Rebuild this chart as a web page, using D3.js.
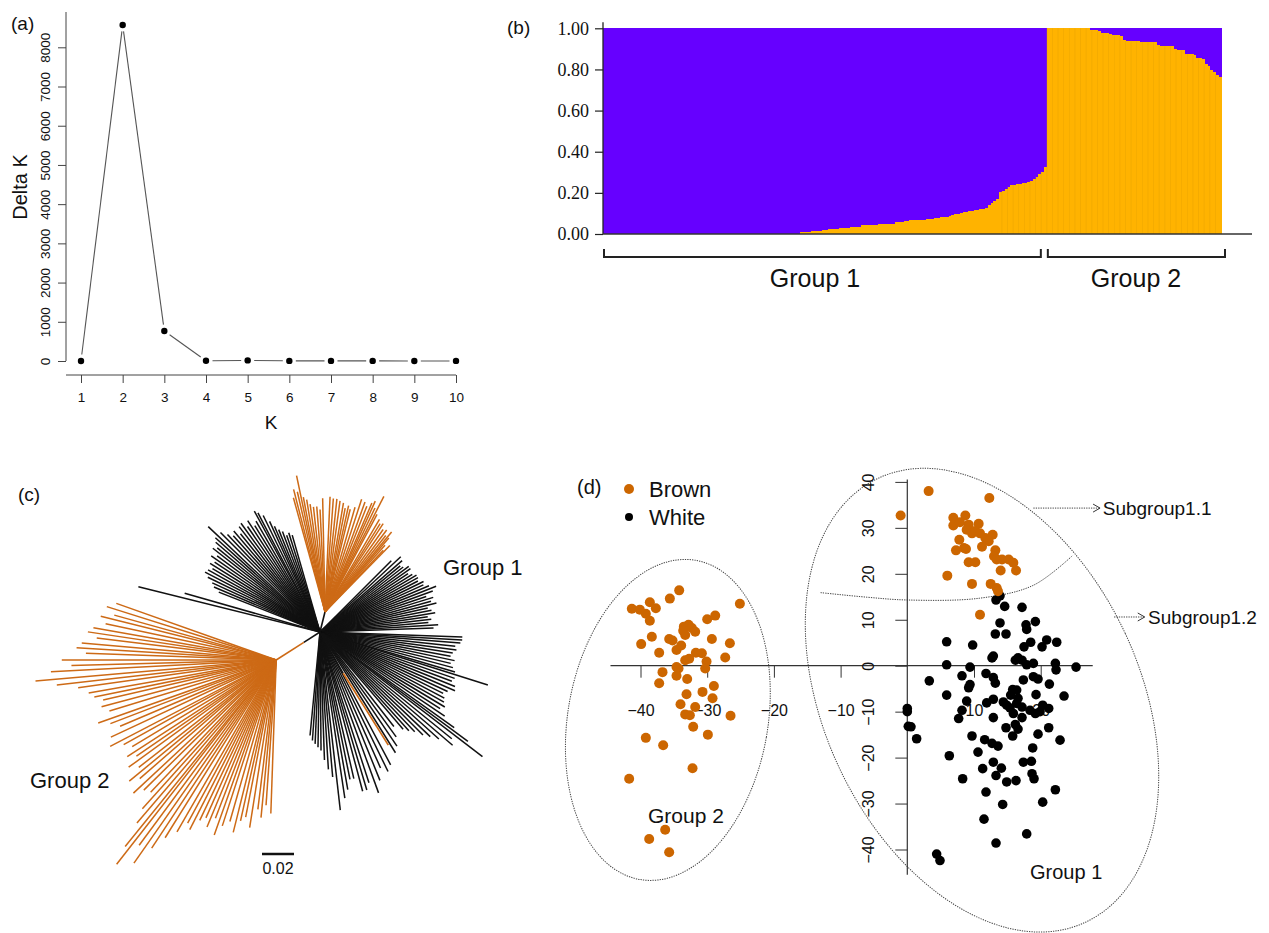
<!DOCTYPE html>
<html><head><meta charset="utf-8">
<script src="https://cdn.jsdelivr.net/npm/d3@7"></script>
<style>
body{margin:0;background:#fff}
svg{display:block}
text{font-family:"Liberation Sans",Arial,Helvetica,sans-serif;fill:#111}
</style>
</head><body>
<svg id="c" width="1269" height="933"></svg>
<script>
// ---------------- DATA ----------------
// (a) Delta K
const kValues = [1,2,3,4,5,6,7,8,9,10];
const deltaK  = [0,8570,765,5,15,3,2,3,1,2];
const deltaKTicks = [0,1000,2000,3000,4000,5000,6000,7000,8000];

// (b) STRUCTURE membership (orange proportion per individual, sorted)
const group1Orange = [
0,0,0,0,0,0,0,0,0,0,0,0,0,0,0,0,0,0,0,0,0,0,0,0,0,0,0,0,0,0,0,0,0,0,0,
0,0,0,0,0,0,0,0,0,0,0,0,0,0,0,0,0,0,0,0,0,0,0,0,0,0,0,0,0,0,0,0,0,0,0,
0.008,0.01,0.01,0.012,0.015,0.015,0.015,0.015,0.02,0.021,0.022,0.022,0.023,0.024,
0.027,0.027,0.027,0.027,0.033,0.035,0.035,0.036,0.042,0.043,0.044,0.044,0.045,0.046,
0.049,0.049,0.049,0.05,0.05,0.05,0.058,0.06,0.06,0.061,0.062,
0.066,0.068,0.068,0.069,0.07,0.07,0.072,0.073,
0.075,0.077,0.079,0.081,0.083,0.085,0.088,0.092,0.095,0.099,0.102,0.106,0.109,0.112,
0.114,0.117,0.119,0.121,0.123,0.125,0.141,0.15,0.16,0.17,0.203,0.21,0.22,0.23,0.238,
0.24,0.242,0.244,0.246,0.25,0.254,0.26,0.267,0.279,0.29,0.303,0.327];
const group2Orange = [
1,1,1,1,1,1,1,1,1,1,1,1,1,1,1,
0.992,0.99,0.99,0.988,0.978,0.975,0.975,0.972,0.966,0.965,0.965,0.963,
0.942,0.94,0.94,0.94,0.938,0.936,0.935,0.935,0.935,0.934,0.933,0.932,
0.918,0.916,0.915,0.915,0.914,0.912,0.897,0.895,0.895,0.893,
0.877,0.875,0.875,0.872,0.857,0.855,0.852,0.825,0.818,0.795,0.788,0.775,0.765];
const memberTicks = [0,0.2,0.4,0.6,0.8,1.0];
const groupNames = ["Group 1","Group 2"];

// (c) unrooted tree: [angle (deg), branch length]
const treeStemG2 = {angle:212.6, blackLen:0.012, len:0.0325};
const treeStemTop = {angle:76, len:0.013};
const treeStemLone = {angle:-60.6, len:0.0296, leafAngle:-57.9, leafLen:0.053};
const treeG2Leaves = [
[160.5,.106],[162.5,.111],[164.5,.105],[166,.113],[168,.109],[170,.116],[171.5,.119],[173,.113],
[175,.122],[176.5,.125],[178,.119],[180,.134],[181.5,.128],[183,.141],[185,.151],[186.5,.138],
[188,.125],[190,.119],[191.5,.116],[193,.111],[195,.113],[197,.109],[199.5,.118],[201,.111],
[203,.106],[205,.114],[207.5,.117],[209,.109],[211,.105],[213,.111],[214.5,.106],[216,.114],
[218,.109],[219.5,.119],[221,.113],[223,.122],[224.5,.116],[226.5,.114],[228,.125],[229.5,.134],
[231,.15],[232,.162],[233.5,.144],[235,.155],[236.5,.141],[238,.131],[240,.124],[241.5,.116],
[243,.119],[244.5,.111],[246,.108],[247.5,.113],[249,.106],[250.5,.116],[252,.109],[254,.105],
[256,.111],[257.5,.103],[259,.1],[261,.106],[263,.094],[264.5,.099],[266,.091],[268,.096]];
const treeTopLeaves = [
[91.2,.071],[92.8,.064],[94.5,.066],[96.3,.066],[97.9,.068],[99.3,.071],[100.7,.073],[101.8,.087],
[103,.077],[104.4,.079],[105.5,.074],
[45.7,.058],[46.6,.053],[48,.056],[49.2,.061],[50.2,.065],[51.5,.061],[53,.064],[54.8,.063],
[56.6,.066],[58,.065],[59.5,.067],[61.9,.069],[63,.081],[64.3,.072],[65.6,.076],[66.7,.074],
[68.4,.071],[70,.073],[72,.074],[74,.068],[76.2,.066],[77.5,.068],[79,.066],[80.4,.069],
[82.3,.07],[84,.071],[85.8,.071],[87.5,.072]];
const treeBlackLeaves = [
[106,.063],[107.5,.065],[109,.064],[110.5,.067],[112,.069],[113.3,.072],[114.5,.076],[116,.081],
[117.5,.084],[118.5,.086],[120,.08],[121.5,.078],[123,.083],[124.5,.08],[126,.084],[127.5,.083],
[129,.079],[130.5,.083],[132,.081],[133.5,.084],[135,.088],[136.7,.096],[138,.088],[139.3,.086],
[140.7,.083],[142,.085],[143.5,.08],[145,.083],[146.5,.079],[148,.081],[149.5,.078],[151,.08],
[152.5,.081],[154,.078],[155.5,.074],[157,.072],[158.5,.068],[164,.088],[166,.117],
[2,.071],[3.5,.074],[5,.068],[6.5,.07],[8,.068],[9.5,.073],[11,.071],[12.5,.069],[14,.075],
[15.5,.072],[17,.074],[18.5,.07],[20,.075],[21.5,.078],[23,.074],[24.5,.071],[26,.072],
[27.5,.069],[29,.07],[30.5,.07],[32,.068],[33.5,.066],[35,.069],[36.5,.069],[38,.066],
[39.5,.065],[41,.068],[43,.069],[45,.063],
[-2,.089],[-3.2,.089],[-4.5,.088],[-6,.085],[-7.5,.086],[-9,.084],[-10.5,.083],[-12,.086],
[-13.5,.084],[-15,.086],[-16.5,.088],[-17.5,.11],[-19,.089],[-20.5,.088],[-22,.091],[-23.5,.092],
[-25,.088],[-26.5,.086],[-28,.088],[-29.5,.089],[-31,.091],[-32.5,.089],[-34,.094],[-35.5,.103],
[-36.5,.115],[-37.5,.128],[-39,.106],[-40.5,.109],[-42,.1],[-43.5,.095],[-45,.091],[-46.5,.086],
[-48,.083],[-49.5,.08],
[-52,.075],[-54,.081],[-56,.086],[-58,.089],[-62,.094],[-64,.097],[-66,.093],[-68,.1],
[-70,.107],[-72,.099],[-73.5,.103],[-75,.103],[-77,.094],[-78.5,.094],[-80,.1],[-81.5,.105],
[-83.5,.112],[-85,.091],[-86.5,.086],[-88,.08],[-89.5,.074],[-91,.072],[-92.5,.07],[-94,.068],[-95.5,.065]];
const treeScaleBar = 0.02;

// (d) PCA scores [PC1, PC2]
const brownGroup2 = [
[-41.3,12.4],[-40.1,12.2],[-39.2,11.3],[-38.6,13.8],[-37.7,12.5],[-38.6,9.8],[-35.6,14.6],[-34.2,16.4],
[-25.1,13.5],[-39.9,4.7],[-38.3,6.3],[-35.7,5.8],[-35.2,5.5],[-37.2,2.8],[-34.6,3.4],[-33.9,4.4],
[-33.5,8.5],[-32.8,8.9],[-32.3,8.2],[-31.8,7.4],[-33.3,6.7],[-30.0,10.1],[-28.8,10.9],[-29.3,5.8],
[-26.6,4.9],[-27.3,1.8],[-31.7,2.8],[-30.8,2.7],[-30.1,0.9],[-30.3,-0.6],[-33.3,1.2],[-32.7,1.5],
[-34.3,-0.6],[-36.7,-1.4],[-34.6,-2.2],[-37.2,-3.8],[-33.0,-2.9],[-29.0,-4.4],[-33.1,-6.2],[-30.7,-5.7],
[-29.2,-7.1],[-34.0,-8.4],[-31.8,-9.0],[-33.3,-10.6],[-32.6,-10.8],[-26.5,-10.9],[-32.1,-13.3],[-29.9,-15.0],
[-39.2,-15.7],[-36.6,-17.3],[-32.2,-22.3],[-41.7,-24.6],[-36.3,-35.7],[-38.7,-37.7],[-35.7,-40.6],
[-34.6,-0.3],[-33.6,7.6]];
const brownGroup1 = [
[-1.0,32.7],[3.2,38.0],[12.3,36.5],[6.9,32.2],[8.7,32.7],[6.9,30.5],[7.9,31.2],[9.2,30.7],[8.9,29.6],
[10.7,30.9],[9.7,28.8],[10.2,29.3],[10.9,28.8],[11.7,27.8],[12.8,28.5],[12.2,27.1],[7.8,27.4],[7.3,25.1],
[8.5,25.6],[8.8,25.4],[11.2,25.9],[13.2,25.1],[13.0,23.8],[13.4,23.1],[14.2,23.1],[15.2,23.1],[15.9,22.4],
[16.3,20.7],[14.0,20.7],[9.2,22.5],[10.2,22.5],[6.0,19.6],[9.7,17.8],[12.5,17.8],[13.4,16.9],[13.6,16.2],
[10.9,11.1]];
const whiteGroup1 = [
[13.3,14.3],[13.9,15.2],[14.6,12.9],[17.2,12.7],[13.9,9.3],[17.8,8.9],[17.9,7.9],[19.2,9.6],[13.2,6.9],
[14.8,6.9],[5.9,5.2],[9.8,4.5],[17.5,4.1],[18.5,5.1],[20.2,4.1],[20.9,5.6],[22.4,5.1],[12.7,1.7],
[12.9,2.1],[16.2,1.2],[16.6,1.7],[17.2,1.2],[5.9,0.2],[9.4,-0.3],[17.9,0.2],[18.9,0.5],[22.2,0.5],
[22.3,-0.9],[25.3,-0.3],[3.3,-3.3],[8.2,-2.2],[11.8,-1.7],[12.9,-2.6],[13.2,-3.8],[9.4,-4.1],[9.2,-4.8],
[17.4,-3.1],[18.9,-2.4],[19.6,-2.9],[21.3,-4.0],[5.9,-6.4],[15.8,-5.2],[16.4,-5.3],[15.5,-6.4],[16.6,-7.1],
[19.3,-6.3],[23.5,-6.6],[8.9,-7.7],[11.9,-8.1],[12.9,-7.3],[14.4,-7.9],[14.9,-8.6],[15.4,-9.2],[16.4,-8.2],
[17.2,-9.0],[8.2,-9.7],[15.9,-10.4],[18.4,-9.7],[19.2,-10.4],[19.9,-10.0],[21.2,-9.3],[20.3,-8.6],[7.7,-11.5],
[12.9,-11.3],[17.2,-11.3],[14.8,-13.5],[16.2,-12.8],[16.6,-13.8],[21.2,-13.5],[15.8,-15.3],[19.6,-14.9],
[22.9,-16.2],[9.7,-15.3],[11.6,-16.1],[12.7,-16.9],[13.6,-17.5],[18.8,-17.9],[10.6,-18.8],[6.3,-19.6],
[12.9,-21.0],[17.4,-21.0],[18.6,-20.8],[11.3,-22.4],[14.1,-22.3],[13.3,-23.9],[18.7,-23.5],[19.0,-24.6],
[14.9,-25.3],[16.3,-25.0],[8.3,-24.6],[11.8,-27.5],[22.2,-27.0],[14.3,-30.2],[20.3,-29.7],[11.5,-33.4],
[17.9,-36.6],[0,-9.3],[0,-10.0],[0.15,-13.2],[0.55,-13.3],[1.4,-15.9],[4.4,-41.0],[4.9,-42.4],[13.3,-38.6]];
const pcXTicks = [-40,-30,-20,-10,10,20];
const pcYTicks = [-40,-30,-20,-10,0,10,20,30,40];
const subgroupDivider = [[-13,15.9],[-6,14.9],[0,14.3],[10.9,14.7],[18.9,17.5],[24.8,24.0]];
const legendItems = [{label:"Brown",color:"#CC6600"},{label:"White",color:"#000"}];

// ---------------- DRAWING ----------------
const svg = d3.select("#c");
const ORANGE_TREE = "#CD6A16";
const BROWN = "#CC6600";

function label(x,y,txt,size,opts={}){
  const t = svg.append("text").attr("x",x).attr("y",y).style("font-size",size+"px").text(txt);
  if(opts.anchor) t.attr("text-anchor",opts.anchor);
  return t;
}

// ===== Panel (a)
{
  const x = d3.scaleLinear().domain([1,10]).range([81,456]);
  const y = d3.scaleLinear().domain([0,8000]).range([361,47.3]);
  const g = svg.append("g");
  for(let i=0;i<kValues.length-1;i++){
    const x1=x(kValues[i]),y1=y(deltaK[i]),x2=x(kValues[i+1]),y2=y(deltaK[i+1]);
    const dx=x2-x1,dy=y2-y1,L=Math.hypot(dx,dy),gap=6.5;
    g.append("line").attr("x1",x1+dx*gap/L).attr("y1",y1+dy*gap/L)
      .attr("x2",x2-dx*gap/L).attr("y2",y2-dy*gap/L)
      .attr("stroke","#555").attr("stroke-width",1.1);
  }
  g.selectAll("circle").data(kValues).join("circle")
    .attr("cx",d=>x(d)).attr("cy",(d,i)=>y(deltaK[i])).attr("r",3.2).attr("fill","#000");
  const ya = svg.append("g").attr("transform","translate(66,0)")
    .call(d3.axisLeft(y).tickValues(deltaKTicks).tickSize(8).tickFormat(d3.format("d")));
  ya.select(".domain").remove();
  ya.selectAll(".tick line").attr("stroke","#444");
  ya.selectAll(".tick text").attr("transform","rotate(-90)").attr("x",0).attr("y",-16).attr("dy",0)
    .attr("text-anchor","middle").style("font-size","13.5px").attr("fill","#333");
  svg.append("line").attr("x1",66).attr("x2",66).attr("y1",y(8900)).attr("y2",y(0)).attr("stroke","#444");
  const xa = svg.append("g").attr("transform","translate(0,375)")
    .call(d3.axisBottom(x).tickValues(kValues).tickSize(8));
  xa.select(".domain").remove();
  xa.selectAll(".tick line").attr("stroke","#444");
  xa.selectAll(".tick text").attr("y",17).style("font-size","13.5px").attr("fill","#333");
  svg.append("line").attr("x1",66).attr("x2",x(10)).attr("y1",375).attr("y2",375).attr("stroke","#444");
  label(271,429,"K",19,{anchor:"middle"});
  label(0,0,"Delta K",20,{anchor:"middle"}).attr("transform","translate(27,187) rotate(-90)");
  label(11,30,"(a)",19);
}

// ===== Panel (b)
{
  const values = group1Orange.concat(group2Orange);
  const n1 = group1Orange.length;
  const x = d3.scaleBand().domain(d3.range(values.length)).range([603,1221]);
  const y = d3.scaleLinear().domain([0,1]).range([234,28.3]);
  const g = svg.append("g").attr("shape-rendering","crispEdges");
  g.selectAll("rect.p").data(values).join("rect").attr("class","p")
    .attr("x",(d,i)=>x(i)).attr("width",x.bandwidth()+0.6)
    .attr("y",y(1)).attr("height",d=>y(d)-y(1)).attr("fill","#6600FF");
  g.selectAll("rect.o").data(values).join("rect").attr("class","o")
    .attr("x",(d,i)=>x(i)).attr("width",x.bandwidth()+0.6)
    .attr("y",d=>y(d)).attr("height",d=>y(0)-y(d)).attr("fill","#FFB300");
  svg.append("g").selectAll("line").data(values.map((d,i)=>[d,i]).filter(d=>d[0]>0.2 && d[1]%2===0)).join("line")
    .attr("x1",d=>x(d[1])).attr("x2",d=>x(d[1])).attr("y1",d=>y(d[0])).attr("y2",y(0))
    .attr("stroke","#D99A00").attr("stroke-width",0.5).attr("opacity",0.55);
  const ya = svg.append("g").attr("transform","translate(603,0)")
    .call(d3.axisLeft(y).tickValues(memberTicks).tickSize(8).tickFormat(d3.format(".2f")));
  ya.select(".domain").remove();
  ya.selectAll(".tick line").attr("stroke","#222").attr("stroke-width",1.2);
  ya.selectAll(".tick text").attr("x",-14).style("font-size","18px")
    .style("font-family",'"Liberation Serif","Times New Roman",serif').attr("fill","#222");
  svg.append("line").attr("x1",603).attr("x2",603).attr("y1",y(1.03)).attr("y2",y(0)).attr("stroke","#222").attr("stroke-width",1.3);
  svg.append("line").attr("x1",603).attr("x2",1252).attr("y1",y(0)).attr("y2",y(0)).attr("stroke","#333").attr("stroke-width",1.5);
  const ranges = [[x(0)+1, x(n1-1)+x.bandwidth()-6],[x(n1)+1, x(values.length-1)+x.bandwidth()+4]];
  ranges.forEach(r=>{
    svg.append("path").attr("d",`M${r[0]},249V257H${r[1]}V249`).attr("fill","none")
      .attr("stroke","#222").attr("stroke-width",2);
  });
  label(815,287,groupNames[0],25,{anchor:"middle"});
  label(1136,287,groupNames[1],25,{anchor:"middle"});
  label(507,34,"(b)",19);
}

// ===== Panel (c)
{
  const C = [320,632];
  const bl = d3.scaleLinear().domain([0,treeScaleBar]).range([0,32]);
  const polar = (o,ang,len)=>{const a=ang*Math.PI/180;return [o[0]+bl(len)*Math.cos(a), o[1]-bl(len)*Math.sin(a)];};
  const g = svg.append("g").attr("stroke-linecap","butt");
  const seg = (p,q,col,w)=>g.append("line").attr("x1",p[0]).attr("y1",p[1]).attr("x2",q[0]).attr("y2",q[1])
      .attr("stroke",col).attr("stroke-width",w);
  treeBlackLeaves.forEach(([a,l])=>seg(C,polar(C,a,l),"#111",1.5));
  const N1 = polar(C,treeStemTop.angle,treeStemTop.len);
  seg(C,N1,"#111",1.6);
  treeTopLeaves.forEach(([a,l])=>seg(N1,polar(N1,a,l),ORANGE_TREE,1.5));
  const Sb = polar(C,treeStemG2.angle,treeStemG2.blackLen);
  const N2 = polar(C,treeStemG2.angle,treeStemG2.len);
  seg(C,Sb,"#111",1.6);
  seg(Sb,N2,ORANGE_TREE,1.6);
  treeG2Leaves.forEach(([a,l])=>seg(N2,polar(N2,a,l),ORANGE_TREE,1.5));
  const N3 = polar(C,treeStemLone.angle,treeStemLone.len);
  seg(C,N3,"#111",1.5);
  seg(N3,polar(N3,treeStemLone.leafAngle,treeStemLone.leafLen),ORANGE_TREE,1.7);
  svg.append("line").attr("x1",262).attr("x2",262+bl(treeScaleBar)).attr("y1",854).attr("y2",854)
    .attr("stroke","#111").attr("stroke-width",2.5);
  label(262+bl(treeScaleBar)/2,874,"0.02",16,{anchor:"middle"});
  label(443,575,"Group 1",22);
  label(30,788,"Group 2",22);
  label(18,501,"(c)",19);
}

// ===== Panel (d)
{
  const x = d3.scaleLinear().domain([0,10]).range([907.3,974]);
  const y = d3.scaleLinear().domain([0,10]).range([665.7,619.75]);
  const ell = [{cx:-35.9,cy:-11.8,rx:100,ry:162,rot:10},{cx:11.2,cy:-7.5,rx:158,ry:245,rot:-25}];
  ell.forEach(e=>svg.append("ellipse").attr("cx",0).attr("cy",0).attr("rx",e.rx).attr("ry",e.ry)
    .attr("transform",`translate(${x(e.cx)},${y(e.cy)}) rotate(${e.rot})`)
    .attr("fill","none").attr("stroke","#444").attr("stroke-width",1).attr("stroke-dasharray","1.3,1.1"));
  svg.append("path").datum(subgroupDivider)
    .attr("d",d3.line().x(d=>x(d[0])).y(d=>y(d[1])).curve(d3.curveCatmullRom))
    .attr("fill","none").attr("stroke","#444").attr("stroke-width",1).attr("stroke-dasharray","1.3,1.1");
  const xa = svg.append("g").attr("transform",`translate(0,${y(0)})`)
    .call(d3.axisBottom(x).tickValues(pcXTicks).tickSize(12));
  xa.select(".domain").remove();
  xa.selectAll(".tick line").attr("stroke","#333");
  xa.selectAll(".tick text").attr("y",39).style("font-size","16px").attr("fill","#111");
  svg.append("line").attr("x1",x(-44.5)).attr("x2",x(27.8)).attr("y1",y(0)).attr("y2",y(0)).attr("stroke","#333").attr("stroke-width",1.2);
  const ya = svg.append("g").attr("transform",`translate(${x(0)},0)`)
    .call(d3.axisLeft(y).tickValues(pcYTicks).tickSize(12));
  ya.select(".domain").remove();
  ya.selectAll(".tick line").attr("stroke","#333");
  ya.selectAll(".tick text").attr("transform","rotate(-90)").attr("x",0).attr("y",-33).attr("dy",0)
    .attr("text-anchor","middle").style("font-size","16px").attr("fill","#111");
  svg.append("line").attr("x1",x(0)).attr("x2",x(0)).attr("y1",y(40.5)).attr("y2",y(-45.5)).attr("stroke","#333").attr("stroke-width",1.2);
  const pts = svg.append("g");
  pts.selectAll("circle.w").data(whiteGroup1).join("circle").attr("class","w")
    .attr("cx",d=>x(d[0])).attr("cy",d=>y(d[1])).attr("r",4.8).attr("fill","#000");
  pts.selectAll("circle.b").data(brownGroup2.concat(brownGroup1)).join("circle").attr("class","b")
    .attr("cx",d=>x(d[0])).attr("cy",d=>y(d[1])).attr("r",5).attr("fill",BROWN);
  legendItems.forEach((it,i)=>{
    svg.append("circle").attr("cx",629).attr("cy",489+i*28).attr("r",i===0?5:4).attr("fill",it.color);
    label(649,497+i*28,it.label,22);
  });
  label(577,494,"(d)",20);
  label(648,823,"Group 2",21);
  label(1030,879,"Group 1",20);
  const arrow = (x1,x2,yy)=>{
    svg.append("line").attr("x1",x1).attr("x2",x2).attr("y1",yy).attr("y2",yy)
      .attr("stroke","#444").attr("stroke-dasharray","1.3,1.1");
    svg.append("path").attr("d",`M${x2-7},${yy-4}L${x2},${yy}L${x2-7},${yy+4}`).attr("fill","none").attr("stroke","#333").attr("stroke-width",1);
  };
  arrow(x(18.9),x(28.9),y(34.3));
  label(x(29.3),y(34.3)+7,"Subgroup1.1",19);
  arrow(x(31),x(35.6),y(10.6));
  label(x(36.1),y(10.6)+7,"Subgroup1.2",19);
}
</script>
</body></html>
